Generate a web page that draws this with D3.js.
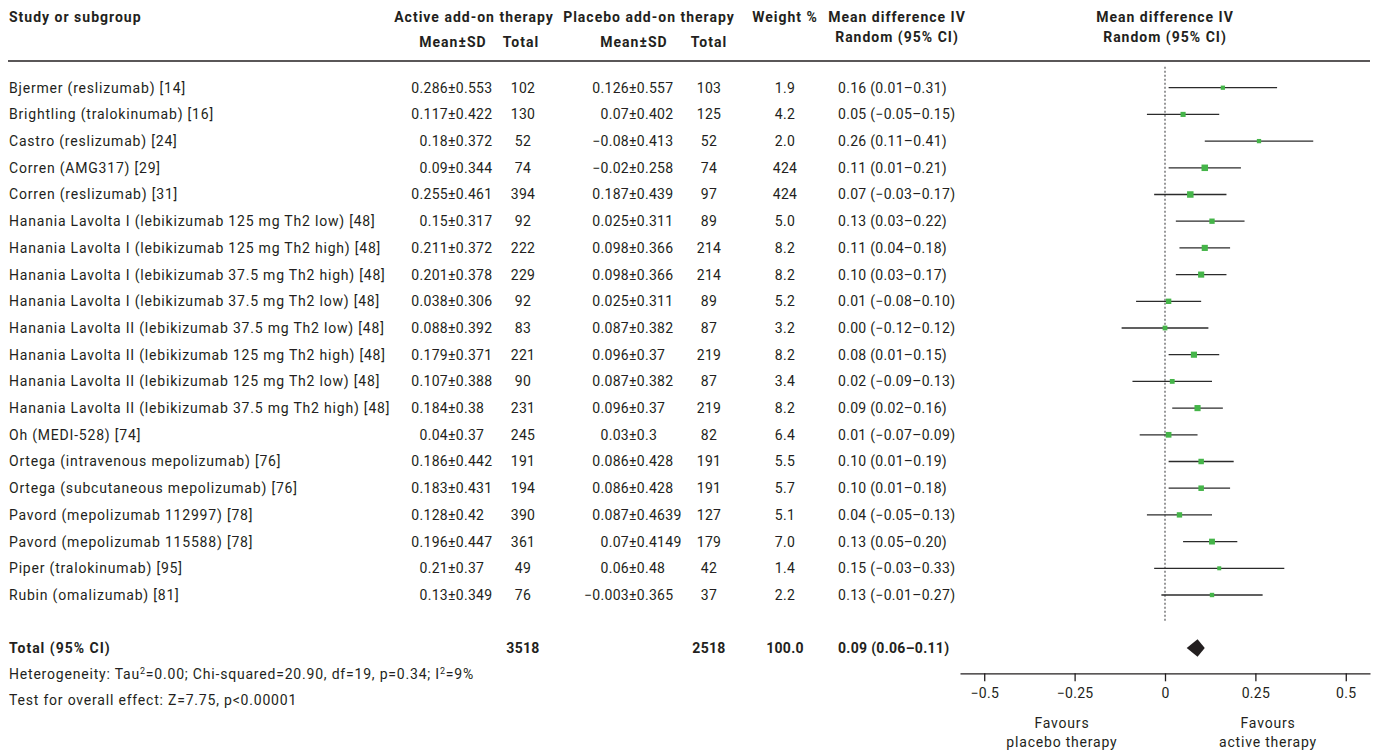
<!DOCTYPE html>
<html>
<head>
<meta charset="utf-8">
<script src="https://cdn.jsdelivr.net/npm/d3@7"></script>
<style>
  html, body { margin: 0; padding: 0; background: #fff; }
  svg text { font-family: Roboto, "Noto Sans", sans-serif; fill: #231f20; }
</style>
</head>
<body>
<svg id="chart" width="1376" height="752"></svg>
<script>
// Studies comparing active add-on therapy with placebo add-on therapy
const studies = [
  "Bjermer (reslizumab) [14]",
  "Brightling (tralokinumab) [16]",
  "Castro (reslizumab) [24]",
  "Corren (AMG317) [29]",
  "Corren (reslizumab) [31]",
  "Hanania Lavolta I (lebikizumab 125 mg Th2 low) [48]",
  "Hanania Lavolta I (lebikizumab 125 mg Th2 high) [48]",
  "Hanania Lavolta I (lebikizumab 37.5 mg Th2 high) [48]",
  "Hanania Lavolta I (lebikizumab 37.5 mg Th2 low) [48]",
  "Hanania Lavolta II (lebikizumab 37.5 mg Th2 low) [48]",
  "Hanania Lavolta II (lebikizumab 125 mg Th2 high) [48]",
  "Hanania Lavolta II (lebikizumab 125 mg Th2 low) [48]",
  "Hanania Lavolta II (lebikizumab 37.5 mg Th2 high) [48]",
  "Oh (MEDI-528) [74]",
  "Ortega (intravenous mepolizumab) [76]",
  "Ortega (subcutaneous mepolizumab) [76]",
  "Pavord (mepolizumab 112997) [78]",
  "Pavord (mepolizumab 115588) [78]",
  "Piper (tralokinumab) [95]",
  "Rubin (omalizumab) [81]"
];
const activeMean = [0.286, 0.117, 0.18, 0.09, 0.255, 0.15, 0.211, 0.201, 0.038, 0.088, 0.179, 0.107, 0.184, 0.04, 0.186, 0.183, 0.128, 0.196, 0.21, 0.13];
const activeSD   = [0.553, 0.422, 0.372, 0.344, 0.461, 0.317, 0.372, 0.378, 0.306, 0.392, 0.371, 0.388, 0.38, 0.37, 0.442, 0.431, 0.42, 0.447, 0.37, 0.349];
const activeN    = [102, 130, 52, 74, 394, 92, 222, 229, 92, 83, 221, 90, 231, 245, 191, 194, 390, 361, 49, 76];
const placeboMean = [0.126, 0.07, -0.08, -0.02, 0.187, 0.025, 0.098, 0.098, 0.025, 0.087, 0.096, 0.087, 0.096, 0.03, 0.086, 0.086, 0.087, 0.07, 0.06, -0.003];
const placeboSD   = [0.557, 0.402, 0.413, 0.258, 0.439, 0.311, 0.366, 0.366, 0.311, 0.382, 0.37, 0.382, 0.37, 0.3, 0.428, 0.428, 0.4639, 0.4149, 0.48, 0.365];
const placeboN    = [103, 125, 52, 74, 97, 89, 214, 214, 89, 87, 219, 87, 219, 82, 191, 191, 127, 179, 42, 37];
const weights = ["1.9", "4.2", "2.0", "424", "424", "5.0", "8.2", "8.2", "5.2", "3.2", "8.2", "3.4", "8.2", "6.4", "5.5", "5.7", "5.1", "7.0", "1.4", "2.2"];
const meanDiff = [0.16, 0.05, 0.26, 0.11, 0.07, 0.13, 0.11, 0.10, 0.01, 0.00, 0.08, 0.02, 0.09, 0.01, 0.10, 0.10, 0.04, 0.13, 0.15, 0.13];
const ciLow    = [0.01, -0.05, 0.11, 0.01, -0.03, 0.03, 0.04, 0.03, -0.08, -0.12, 0.01, -0.09, 0.02, -0.07, 0.01, 0.01, -0.05, 0.05, -0.03, -0.01];
const ciHigh   = [0.31, 0.15, 0.41, 0.21, 0.17, 0.22, 0.18, 0.17, 0.10, 0.12, 0.15, 0.13, 0.16, 0.09, 0.19, 0.18, 0.13, 0.20, 0.33, 0.27];

// Pooled result
const totalActiveN = 3518;
const totalPlaceboN = 2518;
const totalWeight = "100.0";
const pooled = { md: 0.09, lo: 0.06, hi: 0.11 };

const axisTicks = [-0.5, -0.25, 0, 0.25, 0.5];
const favoursLeft = ["Favours", "placebo therapy"];
const favoursRight = ["Favours", "active therapy"];

const rows = studies.map((s, i) => ({
  study: s,
  aMean: activeMean[i], aSD: activeSD[i], aN: activeN[i],
  pMean: placeboMean[i], pSD: placeboSD[i], pN: placeboN[i],
  weight: weights[i], md: meanDiff[i], lo: ciLow[i], hi: ciHigh[i]
}));

const minus = v => String(v).replace("-", "\u2212");
const fmt2 = v => minus(v.toFixed(2));
const ciText = (md, lo, hi) => `${fmt2(md)} (${fmt2(lo)}\u2013${fmt2(hi)})`;

const svg = d3.select("#chart");
const FS = 14;
const ink = "#231f20";
const LS_TEXT = "0.8px";   // spacing for running text
const LS_NUM = "0.3px";    // spacing for numeric cells
const LS_HEAD = "1px";     // spacing for bold headings

// Column layout
const col = {
  name: 9,
  activePm: 448,    // left edge of ± for the active arm
  activeN: 523,
  placeboPm: 629,   // left edge of ± for the placebo arm
  placeboN: 709,
  weight: 785,
  ci: 838,
  forestHead: 1165
};

// Scales
const y = d3.scalePoint().domain(studies).range([87.7, 595]);
const totalY = 648;
const x = d3.scaleLinear().domain([-0.567, 0.567]).range([960, 1370]);
const sq = d3.scaleSqrt().domain([0, 10]).range([2.5, 6.5]).clamp(true);

// ---- Header ----
const head = svg.append("g").attr("font-weight", 700).attr("font-size", FS).attr("letter-spacing", LS_HEAD);
const headText = (x0, y0, txt, anchor) =>
  head.append("text").attr("x", x0).attr("y", y0).attr("dy", "0.35em").attr("text-anchor", anchor || "middle").text(txt);
headText(col.name, 16.7, "Study or subgroup", "start");
headText(474, 16.7, "Active add-on therapy");
headText(649, 16.7, "Placebo add-on therapy");
headText(col.activePm + 5, 42.3, "Mean\u00b1SD");
headText(col.activeN - 2, 42.3, "Total");
headText(col.placeboPm + 5, 42.3, "Mean\u00b1SD");
headText(col.placeboN, 42.3, "Total");
headText(col.weight, 16.7, "Weight %");
headText(897, 16.7, "Mean difference IV");
headText(897, 36.7, "Random (95% CI)");
headText(col.forestHead, 16.7, "Mean difference IV");
headText(col.forestHead, 36.7, "Random (95% CI)");

svg.append("line").attr("x1", 8).attr("x2", 1370).attr("y1", 61).attr("y2", 61)
  .attr("stroke", ink).attr("stroke-width", 1.6);

// ---- Study rows ----
const body = svg.append("g").attr("font-size", FS);
const rowG = body.selectAll("g.row").data(rows).join("g").attr("class", "row")
  .attr("transform", d => `translate(0,${y(d.study)})`);

rowG.append("text").attr("x", col.name).attr("dy", "0.35em").attr("letter-spacing", LS_TEXT).text(d => d.study);

// Mean±SD cells aligned on the ± sign
function pmCell(sel, pmX, meanKey, sdKey) {
  const t = sel.append("text").attr("dy", "0.35em").attr("letter-spacing", LS_NUM);
  t.append("tspan").attr("x", pmX).attr("text-anchor", "end").text(d => minus(d[meanKey]));
  t.append("tspan").attr("x", pmX).attr("text-anchor", "start").text(d => "\u00b1" + d[sdKey]);
}
pmCell(rowG, col.activePm, "aMean", "aSD");
pmCell(rowG, col.placeboPm, "pMean", "pSD");

const numCell = (x0, fn, anchor) => rowG.append("text").attr("x", x0).attr("dy", "0.35em")
  .attr("letter-spacing", LS_NUM).attr("text-anchor", anchor || "middle").text(fn);
numCell(col.activeN, d => d.aN);
numCell(col.placeboN, d => d.pN);
numCell(col.weight, d => d.weight);
numCell(col.ci, d => ciText(d.md, d.lo, d.hi), "start");

// ---- Total row ----
const tot = svg.append("g").attr("font-size", FS).attr("font-weight", 700)
  .attr("transform", `translate(0,${totalY})`);
tot.append("text").attr("x", col.name).attr("dy", "0.35em").attr("letter-spacing", LS_HEAD).text("Total (95% CI)");
tot.append("text").attr("x", col.activeN).attr("dy", "0.35em").attr("letter-spacing", LS_NUM).attr("text-anchor", "middle").text(totalActiveN);
tot.append("text").attr("x", col.placeboN).attr("dy", "0.35em").attr("letter-spacing", LS_NUM).attr("text-anchor", "middle").text(totalPlaceboN);
tot.append("text").attr("x", col.weight).attr("dy", "0.35em").attr("letter-spacing", LS_NUM).attr("text-anchor", "middle").text(totalWeight);
tot.append("text").attr("x", col.ci).attr("dy", "0.35em").attr("letter-spacing", LS_NUM).text(ciText(pooled.md, pooled.lo, pooled.hi));

// ---- Footnotes ----
const foot = svg.append("g").attr("font-size", FS).attr("letter-spacing", LS_TEXT);
const het = foot.append("text").attr("x", col.name).attr("y", 674).attr("dy", "0.35em");
het.append("tspan").text("Heterogeneity: Tau");
het.append("tspan").attr("font-size", 9).attr("dy", -5).text("2");
het.append("tspan").attr("dy", 5).text("=0.00; Chi-squared=20.90, df=19, p=0.34; I");
het.append("tspan").attr("font-size", 9).attr("dy", -5).text("2");
het.append("tspan").attr("dy", 5).text("=9%");
foot.append("text").attr("x", col.name).attr("y", 700).attr("dy", "0.35em").text("Test for overall effect: Z=7.75, p<0.00001");

// ---- Forest plot ----
const forest = svg.append("g");

// line of no effect
forest.append("line")
  .attr("x1", x(0)).attr("x2", x(0))
  .attr("y1", y.range()[0] - 21).attr("y2", y.range()[1] + 27)
  .attr("stroke", "#6d6e70").attr("stroke-width", 1.4).attr("stroke-dasharray", "2,2");

const ci = forest.selectAll("g.ci").data(rows).join("g").attr("class", "ci")
  .attr("transform", d => `translate(0,${y(d.study)})`);
ci.append("line")
  .attr("x1", d => x(d.lo)).attr("x2", d => x(d.hi))
  .attr("stroke", "#2b2b2b").attr("stroke-width", 1.3);
ci.append("rect")
  .attr("x", d => x(d.md) - sq(+d.weight) / 2)
  .attr("y", d => -sq(+d.weight) / 2)
  .attr("width", d => sq(+d.weight))
  .attr("height", d => sq(+d.weight))
  .attr("fill", "#45b549");

// pooled estimate diamond
const dh = 8.7;
forest.append("path")
  .attr("d", `M${x(pooled.lo)},${totalY} L${x(pooled.md)},${totalY - dh} L${x(pooled.hi)},${totalY} L${x(pooled.md)},${totalY + dh} Z`)
  .attr("fill", ink);

// axis
const axisY = 673.3;
const axis = forest.append("g").attr("transform", `translate(0,${axisY})`)
  .call(d3.axisBottom(x).tickValues(axisTicks).tickSize(8).tickSizeOuter(0).tickPadding(7)
    .tickFormat(d => minus(d)));
axis.select(".domain").attr("stroke", ink).attr("stroke-width", 1.3);
axis.selectAll(".tick line").attr("stroke", ink).attr("stroke-width", 1.3);
axis.selectAll(".tick text").attr("font-size", FS).attr("letter-spacing", LS_NUM)
  .attr("font-family", "Roboto, 'Noto Sans', sans-serif").attr("fill", ink);

const fav = forest.append("g").attr("font-size", FS).attr("text-anchor", "middle").attr("letter-spacing", LS_TEXT);
[[-0.285, favoursLeft], [0.285, favoursRight]].forEach(([v, lines]) => {
  lines.forEach((ln, k) => {
    fav.append("text").attr("x", x(v)).attr("y", 723 + k * 18.7).attr("dy", "0.35em").text(ln);
  });
});
</script>
</body>
</html>
